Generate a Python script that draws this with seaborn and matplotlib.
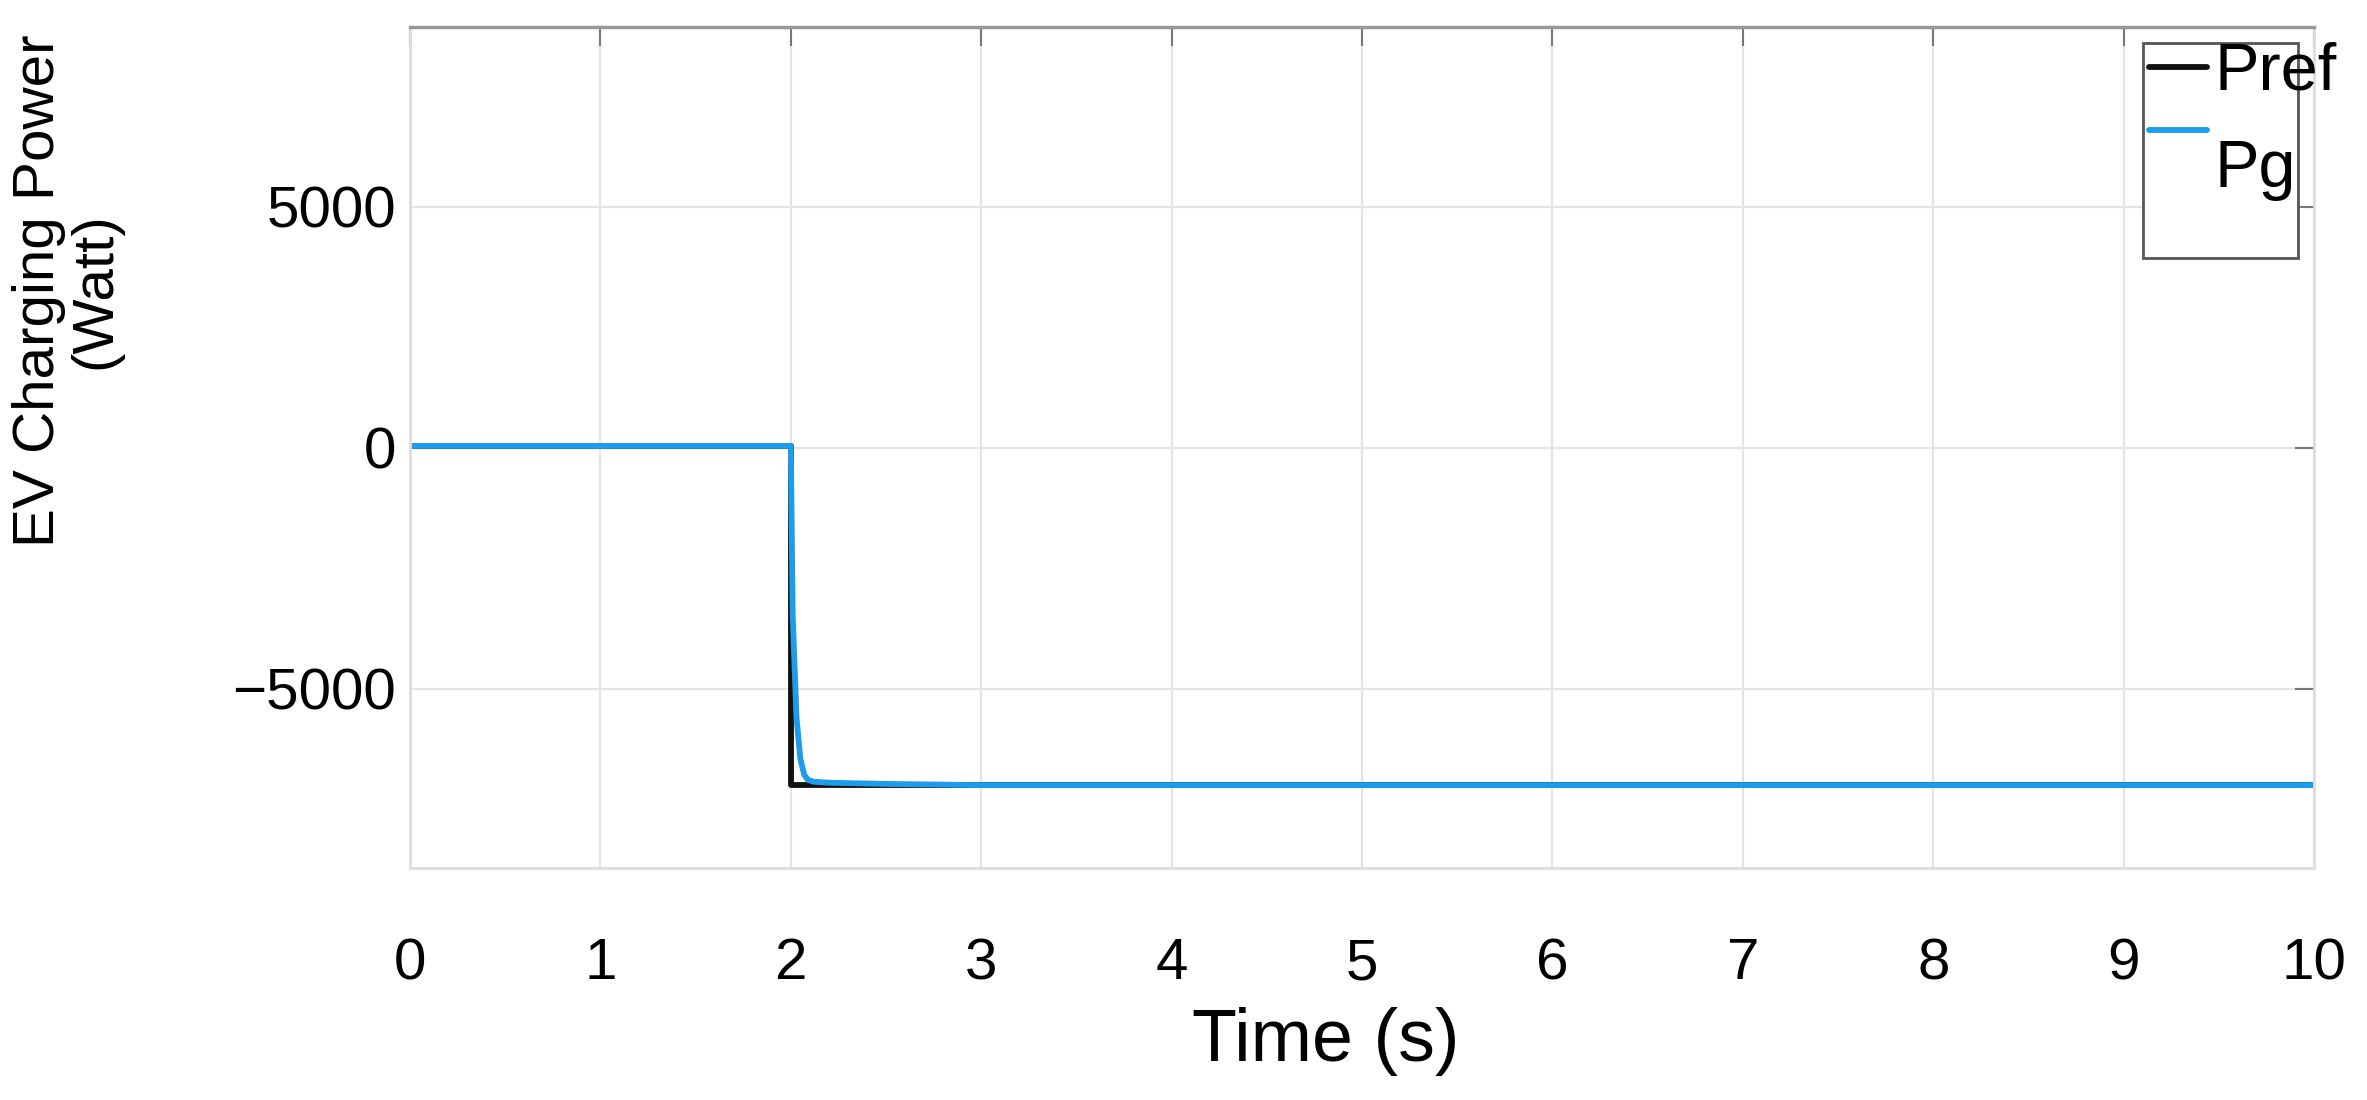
import pandas as pd
import seaborn as sns
import matplotlib.pyplot as plt
from matplotlib.patches import Rectangle

# values
pref_time = [0.0, 2.0, 2.0, 10.0]
pref_power = [40, 40, -7000, -7000]

pg_time = [0.0, 2.0, 2.01, 2.03, 2.05, 2.07, 2.09, 2.12, 2.2, 2.5, 3.0, 10.0]
pg_power = [40, 40, -3500, -5600, -6450, -6780, -6890, -6930, -6950, -6975, -7000, -7000]

x_ticks = list(range(0, 11))
y_ticks = [-5000, 0, 5000]


def main():
    sns.set_theme(style='white')
    plt.rcParams['font.family'] = ['Liberation Sans', 'DejaVu Sans']

    fig = plt.figure(figsize=(23.67, 11), dpi=100)
    ax = fig.add_axes([410 / 2367, 1 - 868 / 1100, 1904 / 2367, 841 / 1100])

    df_ref = pd.DataFrame({'t': pref_time, 'p': pref_power})
    df_pg = pd.DataFrame({'t': pg_time, 'p': pg_power})
    sns.lineplot(data=df_ref, x='t', y='p', ax=ax, color='#111111', lw=4.2,
                 estimator=None, sort=False, label='Pref')
    sns.lineplot(data=df_pg, x='t', y='p', ax=ax, color='#1e9cec', lw=4.2,
                 estimator=None, sort=False, label='Pg')

    ax.set_xlim(0, 10)
    ax.set_ylim(-8720, 8735)
    ax.set_xticks(x_ticks)
    ax.set_yticks(y_ticks)
    ax.grid(True, color='#e4e4e4', lw=1.6)
    ax.set_axisbelow(True)

    ax.tick_params(direction='in', top=True, right=True, length=14, width=1.5,
                   color='#777777', labelsize=42, labelcolor='black')
    ax.tick_params(axis='x', pad=50)
    ax.tick_params(axis='y', pad=10)

    for side in ['left', 'bottom', 'right']:
        ax.spines[side].set_color('#dddddd')
        ax.spines[side].set_linewidth(2)
    ax.spines['top'].set_color('#999999')
    ax.spines['top'].set_linewidth(2.5)

    ax.set_xlabel('Time (s)', fontsize=53, color='black')
    ax.xaxis.set_label_coords(0.481, -0.165)
    ax.set_ylabel('EV Charging Power\n(Watt)', fontsize=42, color='black',
                  linespacing=1.06, va='center')
    ax.yaxis.set_label_coords(-0.18, 0.687)

    # legend box, MATLAB style
    frame = Rectangle((2143 / 2367, 1 - 258 / 1100), 155 / 2367, 215 / 1100,
                      transform=fig.transFigure, facecolor='white',
                      edgecolor='#555555', lw=2, zorder=4, clip_on=False)
    ax.add_artist(frame)
    leg = ax.legend(loc='upper left', bbox_to_anchor=(2149 / 2367, 1 - 42 / 1100),
                    bbox_transform=fig.transFigure, frameon=False, fontsize=48,
                    borderpad=0, borderaxespad=0, handlelength=0.87,
                    handletextpad=0.12, labelspacing=0.52)
    for txt in leg.get_texts():
        txt.set_color('black')
    # the Pg key sits above its label in the reference
    pg_handle = leg.legend_handles[1]
    pg_handle.set_ydata([v + 24 for v in pg_handle.get_ydata()])
    leg.set_zorder(5)

    fig.savefig('out.png', dpi=100)


if __name__ == "__main__":
    main()
